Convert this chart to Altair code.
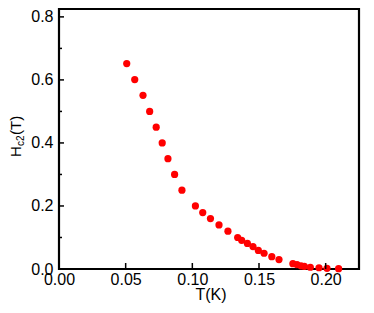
import altair as alt
import pandas as pd

# Data
T = [0.0508, 0.0568, 0.0630, 0.0680, 0.0729, 0.0774, 0.0817, 0.0867, 0.0922,
     0.1023, 0.1078, 0.1136, 0.1200, 0.1267, 0.1340, 0.1370, 0.1413, 0.1455,
     0.1495, 0.1538, 0.1596, 0.1650, 0.1754, 0.1785, 0.1815, 0.1840, 0.1885,
     0.1950, 0.2010, 0.2097]
Hc2 = [0.652, 0.601, 0.551, 0.500, 0.450, 0.400, 0.350, 0.300, 0.250,
       0.200, 0.179, 0.160, 0.140, 0.120, 0.100, 0.091, 0.081, 0.071,
       0.059, 0.050, 0.039, 0.030, 0.017, 0.014, 0.010, 0.0085, 0.0055,
       0.004, 0.002, 0.001]

x_major = [0.00, 0.05, 0.10, 0.15, 0.20]
y_major = [0.0, 0.2, 0.4, 0.6, 0.8]
y_minor = [0.1, 0.3, 0.5, 0.7]

X_DOMAIN = [0, 0.225]
Y_DOMAIN = [0, 0.825]
FONT = "Liberation Sans"

pts = pd.DataFrame({"T": T, "H": Hc2})

xscale = alt.Scale(domain=X_DOMAIN, nice=False, zero=False)
yscale = alt.Scale(domain=Y_DOMAIN, nice=False, zero=False)
xaxis = alt.Axis(values=x_major, format=".2f", ticks=False, domain=False, grid=False,
                 labelPadding=2, title=None, labelFont=FONT, labelFontSize=16,
                 labelColor="black", labelFlush=False)
yaxis = alt.Axis(values=y_major, format=".1f", ticks=False, domain=False, grid=False,
                 labelPadding=6, title=None, labelFont=FONT, labelFontSize=16,
                 labelColor="black", labelFlush=False)

points = alt.Chart(pts).mark_circle(size=52, color="#ff0000", opacity=1).encode(
    x=alt.X("T:Q", scale=xscale, axis=xaxis),
    y=alt.Y("H:Q", scale=yscale, axis=yaxis),
)

ymaj = alt.Chart(pd.DataFrame({"H": y_major})).mark_rule(color="black", strokeWidth=1.5).encode(
    y=alt.Y("H:Q", scale=yscale, axis=yaxis),
    x=alt.value(0), x2=alt.value(5),
)
ymin = alt.Chart(pd.DataFrame({"H": y_minor})).mark_rule(color="black", strokeWidth=1.5).encode(
    y=alt.Y("H:Q", scale=yscale, axis=yaxis),
    x=alt.value(0), x2=alt.value(3),
)
xmaj = alt.Chart(pd.DataFrame({"T": x_major[1:]})).mark_rule(color="black", strokeWidth=1.5).encode(
    x=alt.X("T:Q", scale=xscale, axis=xaxis),
    y=alt.value(260), y2=alt.value(254),
)

one = alt.Data(values=[{"a": 1}])
xtitle = alt.Chart(one).mark_text(text="T(K)", font=FONT, fontSize=16, align="center",
                                  baseline="alphabetic", color="black").encode(
    x=alt.value(152), y=alt.value(291))
ytH = alt.Chart(one).mark_text(text="H", font=FONT, fontSize=15, align="left", angle=270,
                               baseline="alphabetic", color="black").encode(
    x=alt.value(-38), y=alt.value(148))
ytc2 = alt.Chart(one).mark_text(text="c2", font=FONT, fontSize=10, align="left", angle=270,
                                baseline="alphabetic", color="black").encode(
    x=alt.value(-35), y=alt.value(137))
ytT = alt.Chart(one).mark_text(text="(T)", font=FONT, fontSize=15, align="left", angle=270,
                               baseline="alphabetic", color="black").encode(
    x=alt.value(-38), y=alt.value(126))

chart = alt.layer(points, ymaj, ymin, xmaj, xtitle, ytH, ytc2, ytT).properties(
    width=300, height=260,
    autosize=alt.AutoSizeParams(type="none"),
    padding={"left": 51, "top": 1, "right": 5, "bottom": 35},
).configure_view(stroke="black", strokeWidth=2.2)

chart.save("out.html", embed_options={"renderer": "svg", "actions": False})
